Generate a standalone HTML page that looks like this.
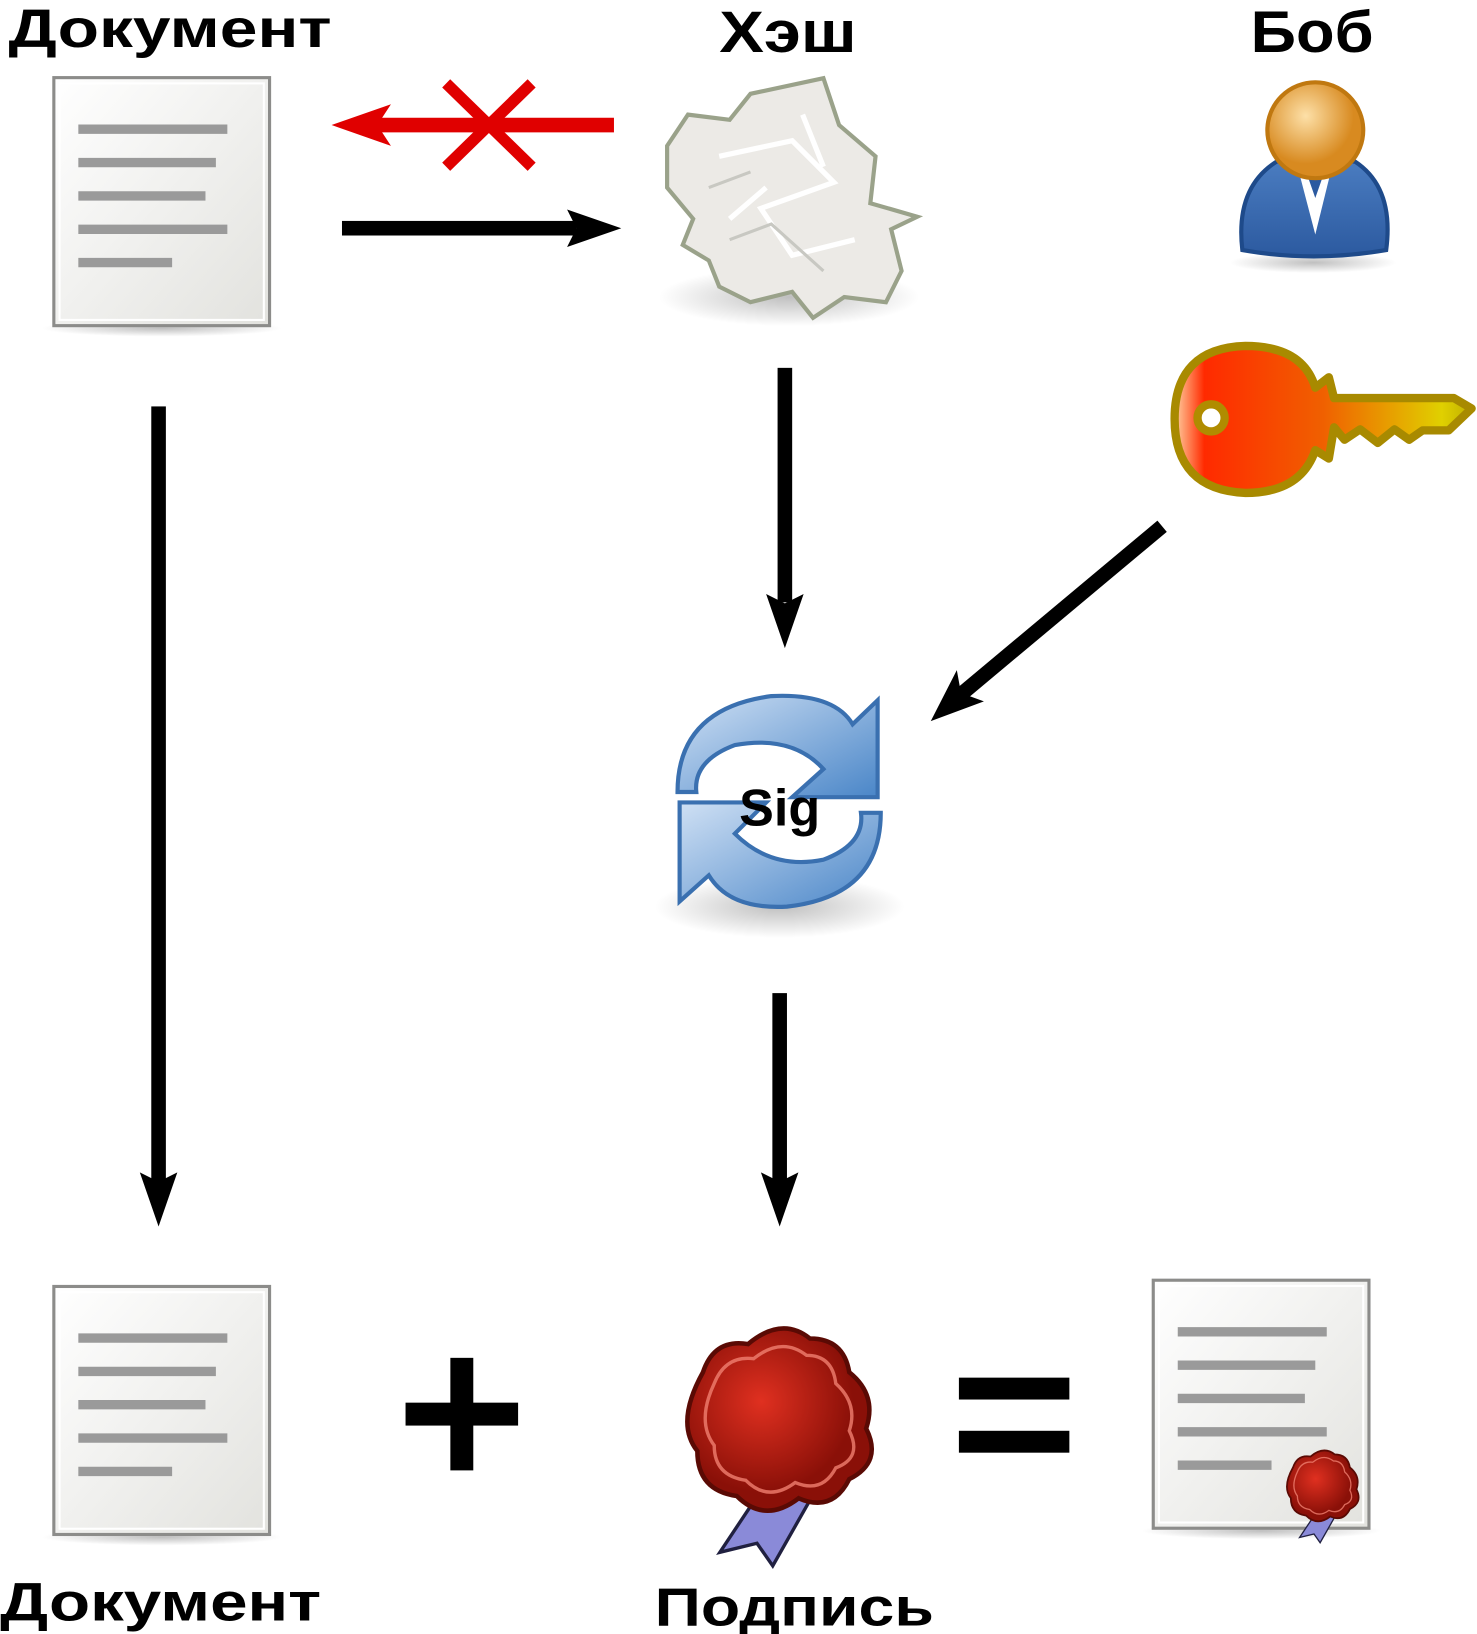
<!DOCTYPE html>
<html><head><meta charset="utf-8"><style>html,body{margin:0;padding:0;background:#fff}svg{display:block}</style></head>
<body>
<svg width="1477" height="1634" viewBox="0 0 1417 1568" xmlns="http://www.w3.org/2000/svg" font-family="'Liberation Sans', sans-serif" font-weight="bold">
<defs>
<linearGradient id="doc" x1="0" y1="0" x2="1" y2="1"><stop offset="0" stop-color="#fff"/><stop offset="1" stop-color="#e2e2de"/></linearGradient>
<radialGradient id="shadow"><stop offset="0" stop-color="#000" stop-opacity=".25"/><stop offset="1" stop-color="#000" stop-opacity="0"/></radialGradient>
<linearGradient id="key" x1="0" x2="1"><stop offset="0" stop-color="#ffd0a0"/><stop offset=".1" stop-color="#ff2a00"/><stop offset=".5" stop-color="#f06000"/><stop offset=".9" stop-color="#e0d000"/><stop offset="1" stop-color="#c0b000"/></linearGradient>
<radialGradient id="head" cx=".4" cy=".35"><stop offset="0" stop-color="#fde0a8"/><stop offset="1" stop-color="#d88a20"/></radialGradient>
<linearGradient id="body" x1="0" y1="0" x2="0" y2="1"><stop offset="0" stop-color="#4a7cc0"/><stop offset="1" stop-color="#2c5aa0"/></linearGradient>
<linearGradient id="sig" x1="0" y1="0" x2="1" y2="1"><stop offset="0" stop-color="#cfe0f4"/><stop offset="1" stop-color="#4a86c8"/></linearGradient>
<radialGradient id="seal" cx=".4" cy=".4"><stop offset="0" stop-color="#e03020"/><stop offset="1" stop-color="#8a1008"/></radialGradient>
<g id="docicon">
<ellipse cx="105" cy="242" rx="115" ry="8" fill="url(#shadow)"/>
<rect x="1.5" y="1.5" width="207" height="238" fill="url(#doc)" stroke="#8c8c8a" stroke-width="3"/>
<rect x="7" y="7" width="196" height="227" fill="none" stroke="#fff" stroke-width="2"/>
<g stroke="#9a9a9a" stroke-width="9"><line x1="25" y1="51" x2="168" y2="51"/><line x1="25" y1="83" x2="157" y2="83"/><line x1="25" y1="115" x2="147" y2="115"/><line x1="25" y1="147" x2="168" y2="147"/><line x1="25" y1="179" x2="115" y2="179"/></g>
</g>
<g id="sealicon">
<path d="M-15,60 L-55,120 L-22,112 L-8,132 L30,65 Z" fill="#8a8ad8" stroke="#202040" stroke-width="3"/>
<path d="M-70,-40 Q-60,-70 -30,-65 Q0,-90 25,-70 Q55,-70 60,-40 Q85,-20 75,10 Q90,40 60,55 Q45,85 15,72 Q-15,95 -40,70 Q-75,65 -75,30 Q-95,5 -70,-40Z" fill="url(#seal)" stroke="#5a0a04" stroke-width="4"/>
<path d="M-60,-30 Q-50,-55 -25,-52 Q0,-72 22,-55 Q45,-55 48,-30 Q68,-12 60,12 Q72,36 48,45 Q36,68 12,58 Q-12,76 -32,56 Q-60,52 -60,25 Q-76,4 -60,-30Z" fill="none" stroke="#f08070" stroke-width="3" opacity=".8"/>
</g>
</defs>

<text x="8" y="45" font-size="52" textLength="310" lengthAdjust="spacingAndGlyphs">Документ</text>
<text x="690" y="50" font-size="56" textLength="132" lengthAdjust="spacingAndGlyphs">Хэш</text>
<text x="1200" y="50" font-size="56" textLength="118" lengthAdjust="spacingAndGlyphs">Боб</text>

<use href="#docicon" x="50" y="73"/>
<use href="#docicon" x="50" y="1233"/>

<line x1="589" y1="120" x2="350" y2="120" stroke="#e00000" stroke-width="14"/>
<path d="M318,120 L375,100 L362,120 L375,140Z" fill="#e00000"/>
<g stroke="#e00000" stroke-width="11"><line x1="428" y1="80" x2="510" y2="160"/><line x1="510" y1="80" x2="428" y2="160"/></g>

<g fill="#000">
<rect x="328" y="212" width="225" height="14"/><path d="M596,219 L544,201 L553,219 L544,237Z"/>
<rect x="746" y="353" width="14" height="225"/><path d="M753,622 L735,570 L753,579 L771,570Z"/>
<rect x="145" y="390" width="14" height="745"/><path d="M152,1177 L134,1125 L152,1134 L170,1125Z"/>
<rect x="741" y="953" width="14" height="182"/><path d="M748,1177 L730,1125 L748,1134 L766,1125Z"/>
<line x1="1115" y1="505" x2="920" y2="668" stroke="#000" stroke-width="14"/>
<path d="M893,692 L918,643 L922,665 L944,673Z"/>
<rect x="389" y="1346" width="108" height="22"/><rect x="432" y="1303" width="22" height="108"/>
<rect x="920" y="1322" width="106" height="21"/><rect x="920" y="1373" width="106" height="21"/>
</g>

<ellipse cx="757" cy="285" rx="125" ry="28" fill="url(#shadow)"/>
<path d="M660,110 L700,115 L720,90 L790,75 L805,120 L840,150 L835,195 L880,208 L855,220 L865,260 L850,290 L810,285 L780,305 L760,280 L720,290 L690,275 L680,250 L655,235 L665,210 L640,180 L640,140 Z" fill="#eceae6" stroke="#9aa28a" stroke-width="4"/>
<path d="M690,150 L760,135 L800,175 L730,200 L760,245 L820,230 M700,210 L735,180 M770,110 L790,160" fill="none" stroke="#fff" stroke-width="5"/>
<path d="M700,230 L740,215 L790,260 M680,180 L720,165" fill="none" stroke="#c8c8c2" stroke-width="3"/>

<ellipse cx="1260" cy="252" rx="80" ry="10" fill="url(#shadow)"/>
<path d="M1192,240 Q1185,180 1225,155 L1300,155 Q1338,180 1330,240 Q1260,252 1192,240Z" fill="url(#body)" stroke="#1e4a8a" stroke-width="4"/>
<path d="M1245,160 L1262,225 L1278,160Z" fill="#fff"/>
<path d="M1255,170 L1262,190 L1269,170Z" fill="#2c5aa0"/>
<circle cx="1262" cy="125" r="46" fill="url(#head)" stroke="#c07810" stroke-width="4"/>

<path d="M1195,332 Q1250,332 1262,372 L1275,362 L1280,382 L1395,382 L1412,392 L1390,413 L1365,413 L1352,422 L1338,412 L1322,425 L1305,412 L1290,422 L1280,410 L1275,440 L1262,432 Q1248,473 1195,473 Q1127,470 1127,402 Q1127,334 1195,332Z" fill="url(#key)" stroke="#a88a00" stroke-width="8" stroke-linejoin="round"/>
<circle cx="1162" cy="401" r="13" fill="#fff" stroke="#b08c00" stroke-width="8"/>

<ellipse cx="748" cy="870" rx="120" ry="30" fill="url(#shadow)"/>
<path d="M650,760 Q650,680 740,668 Q800,665 818,695 L842,672 L842,765 L760,765 L790,738 Q760,705 705,715 Q665,730 668,760Z" fill="url(#sig)" stroke="#3a70b0" stroke-width="4"/>
<path d="M845,780 Q845,860 755,870 Q700,873 680,840 L652,865 L652,770 L735,770 L705,800 Q740,835 790,825 Q830,810 826,780Z" fill="url(#sig)" stroke="#3a70b0" stroke-width="4"/>
<text x="748" y="792" font-size="50" text-anchor="middle" fill="#000">Sig</text>

<use href="#sealicon" transform="translate(750,1360) scale(1.08)"/>
<text x="628" y="1560" font-size="52" textLength="268" lengthAdjust="spacingAndGlyphs">Подпись</text>
<text x="0" y="1555" font-size="52" textLength="308" lengthAdjust="spacingAndGlyphs">Документ</text>

<use href="#docicon" x="1105" y="1227"/>
<use href="#sealicon" transform="translate(1270,1425) scale(0.42)"/>
</svg>
</body></html>
